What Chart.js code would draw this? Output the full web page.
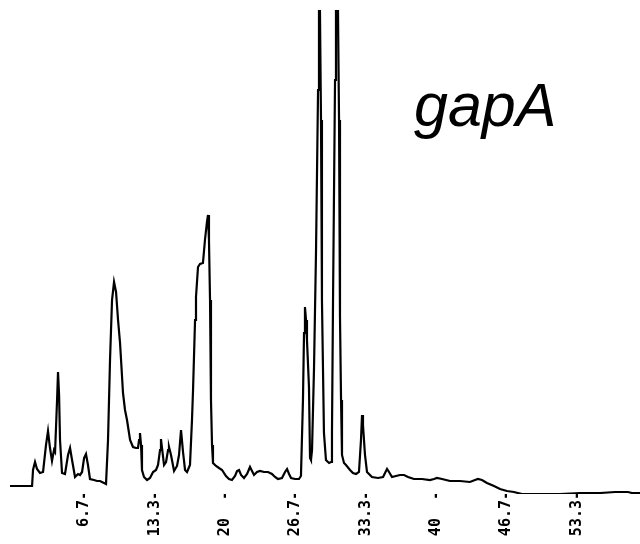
<!DOCTYPE html>
<html>
<head>
<meta charset="utf-8">
<script src="https://cdn.jsdelivr.net/npm/chart.js@4"></script>
<style>
html,body{margin:0;padding:0;background:#fff;}
#wrap{width:640px;height:544px;}
</style>
</head>
<body>
<div id="wrap"><canvas id="c" width="640" height="544"></canvas></div>
<script>
// Retention time (min)
const times = [-0.38,1.71,1.80,1.99,2.18,2.46,2.75,3.03,3.22,3.41,3.60,3.79,3.89,4.08,4.17,4.27,4.36,4.55,4.83,5.12,5.31,5.50,5.78,6.07,6.26,6.45,6.64,6.82,7.01,7.20,7.58,7.87,8.15,8.53,8.72,8.91,9.10,9.29,9.48,9.67,9.86,10.05,10.33,10.52,10.71,11.00,11.28,11.56,11.75,11.85,11.94,12.04,12.13,12.32,12.61,12.89,13.18,13.46,13.65,13.84,13.93,14.03,14.22,14.41,14.60,14.69,14.88,15.17,15.45,15.64,15.83,16.02,16.21,16.40,16.68,16.87,16.97,17.16,17.25,17.44,17.63,17.91,18.10,18.29,18.39,18.48,18.58,18.67,18.77,18.86,19.15,19.43,19.72,20.09,20.38,20.66,20.95,21.14,21.33,21.52,21.80,22.09,22.37,22.56,22.75,23.03,23.32,23.70,24.08,24.45,24.74,25.02,25.40,25.69,25.88,26.07,26.26,26.64,27.01,27.20,27.39,27.49,27.58,27.68,27.77,27.96,28.06,28.15,28.25,28.44,28.63,28.82,28.91,29.00,29.10,29.19,29.38,29.57,29.86,30.05,30.14,30.24,30.43,30.52,30.71,30.81,30.90,31.00,31.09,31.28,31.47,31.85,32.13,32.42,32.70,32.89,32.99,33.08,33.27,33.46,33.93,34.50,34.98,35.17,35.36,35.55,35.83,36.21,36.59,36.97,37.35,37.91,38.67,39.43,39.81,40.09,40.57,41.33,42.27,43.22,43.70,43.98,44.36,44.83,45.50,46.07,46.73,47.39,48.15,49.86,51.75,53.65,55.55,56.97,57.73,58.20,58.58,59.34];
// Detector response (% of full scale)
const response = [1.65,1.65,4.96,6.61,5.17,4.34,4.55,10.12,13.02,9.50,6.82,9.09,8.68,19.42,25.21,20.45,11.16,4.34,4.13,8.06,9.50,7.02,3.51,4.13,3.93,4.55,7.44,8.26,5.99,3.10,2.89,2.69,2.69,2.27,2.07,11.16,27.69,40.08,43.80,41.74,35.95,31.20,20.87,17.36,15.29,11.16,9.71,9.50,9.50,11.16,12.60,10.12,4.96,3.51,2.89,3.31,4.55,4.96,5.99,9.09,11.36,9.50,5.99,6.61,9.09,9.71,8.06,4.75,5.79,8.06,13.22,8.68,4.96,4.55,5.99,15.29,21.49,35.95,40.70,46.90,47.52,47.73,52.48,56.20,57.64,52.48,40.08,19.42,10.12,6.40,5.79,5.37,4.96,3.72,3.10,2.89,3.72,4.75,4.96,3.93,3.31,4.13,5.58,4.75,3.93,4.55,4.75,4.55,4.55,4.13,3.51,3.10,3.31,4.55,5.17,4.13,3.31,3.10,3.10,3.72,19.42,33.26,38.64,35.95,31.82,22.11,7.44,7.02,9.09,26.24,50.41,83.47,100,100,77.27,40.08,12.60,7.02,6.40,6.61,12.60,40.08,85.54,100,100,77.27,36.57,19.42,8.06,6.40,5.99,4.96,4.34,4.13,4.55,11.16,16.32,14.26,8.06,4.55,3.51,3.31,3.51,4.34,5.17,4.55,3.51,3.72,3.93,3.93,3.51,3.10,3.10,2.89,3.10,3.31,3.10,2.69,2.69,2.48,2.89,3.10,2.89,2.27,1.65,1.03,0.62,0.41,0,0,0,0.21,0.21,0.41,0.41,0.41,0.21,0.21];
const tickValues = [6.667,13.333,20,26.667,33.333,40,46.667,53.333];
const tickLabels = ["6.7-","13.3-","20  -","26.7-","33.3-","40  -","46.7-","53.3-"];
const sampleName = "gapA";

const points = times.map((t,i)=>({x:t,y:response[i]}));

const labelPlugin = {
  id:'sampleLabel',
  afterDraw(chart){
    const ctx = chart.ctx;
    ctx.save();
    ctx.font = 'italic 61px "Liberation Sans", Arial, sans-serif';
    ctx.fillStyle = '#000';
    ctx.textBaseline = 'alphabetic';
    ctx.textAlign = 'left';
    ctx.fillText(sampleName, 414, 126);
    ctx.restore();
  }
};

new Chart(document.getElementById('c'), {
  type:'line',
  data:{datasets:[{data:points,borderColor:'#000',borderWidth:2.2,pointRadius:0,tension:0,fill:false}]},
  options:{
    responsive:false,
    animation:false,
    layout:{padding:{top:10,left:0,right:0,bottom:0}},
    plugins:{legend:{display:false},tooltip:{enabled:false}},
    scales:{
      x:{
        type:'linear',
        min:-1.33,
        max:59.34,
        grid:{display:false,drawTicks:false},
        border:{display:false},
        afterFit(s){ s.height = 50; },
        afterBuildTicks(s){ s.ticks = tickValues.map(v=>({value:v})); },
        ticks:{
          autoSkip:false,
          maxRotation:90,
          minRotation:90,
          padding:-3,
          color:'#000',
          font:{family:'"DejaVu Sans Mono", monospace',size:15,weight:'bold'},
          callback(v,i){ return tickLabels[i]; }
        }
      },
      y:{display:false,min:0,max:100}
    }
  },
  plugins:[labelPlugin]
});
</script>
</body>
</html>
